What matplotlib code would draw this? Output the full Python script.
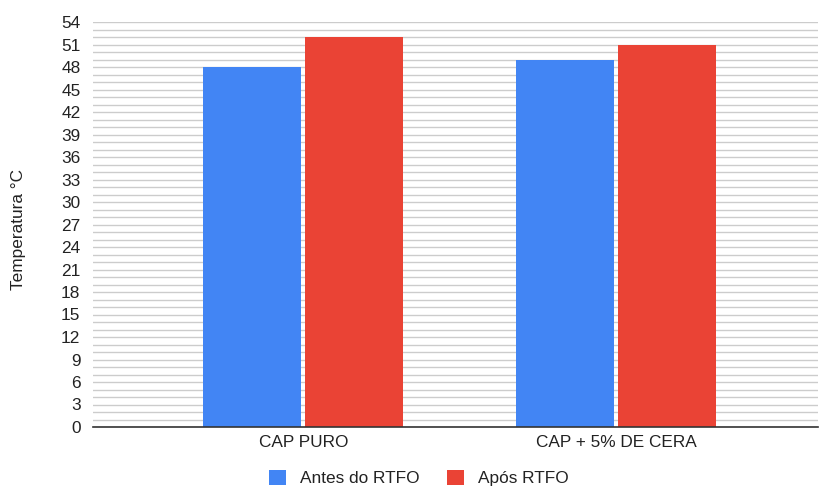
import matplotlib
matplotlib.use("Agg")
import matplotlib.pyplot as plt
import numpy as np
from matplotlib.patches import Patch

plt.rcParams['font.family'] = ['Liberation Sans', 'DejaVu Sans']

categories = ["CAP PURO", "CAP + 5% DE CERA"]
antes = [48, 49]
apos = [52, 51]
series_names = ["Antes do RTFO", "Após RTFO"]
yticks = list(range(0, 55, 3))

blue = "#4285F4"
red = "#EA4335"
fs = 12.4

fig = plt.figure(figsize=(8.19, 4.87), dpi=100)
ax = fig.add_axes([93 / 819, 60 / 487, (818 - 93) / 819, (427 - 22) / 487])

x = np.arange(len(categories))
bw = 0.313
gap = 0.0065
ax.bar(x - bw / 2 - gap, antes, width=bw, color=blue, zorder=3)
ax.bar(x + bw / 2 + gap, apos, width=bw, color=red, zorder=3)

ax.set_xlim(-0.672, 1.644)
ax.set_ylim(0, 54)
ax.set_yticks(yticks)
ax.set_yticks(range(0, 55), minor=True)
ax.yaxis.grid(True, which='both', color='#cccccc', linewidth=1.0, zorder=0)
ax.set_axisbelow(True)
ax.tick_params(axis='y', which='both', length=0, pad=9, labelsize=fs, labelcolor='#222222')
ax.set_xticks(x)
ax.set_xticklabels(categories)
ax.tick_params(axis='x', length=0, pad=6, labelsize=fs, labelcolor='#222222')

for s in ['top', 'right', 'left']:
    ax.spines[s].set_visible(False)
ax.spines['bottom'].set_color('#333333')
ax.spines['bottom'].set_linewidth(1.2)
ax.spines['bottom'].set_zorder(4)

fig.text(19 / 819, 1 - 230 / 487, "Temperatura °C", rotation=90, ha='center', va='center',
         fontsize=fs, color='#222222')

handles = [Patch(facecolor=blue), Patch(facecolor=red)]
fig.legend(handles, series_names, loc='center', bbox_to_anchor=(419 / 819, 1 - 478 / 487),
           ncol=2, frameon=False, fontsize=fs, handlelength=1.0, handleheight=1.0,
           columnspacing=1.6, handletextpad=0.8, labelcolor='#222222')

fig.savefig("out.png", dpi=100)
